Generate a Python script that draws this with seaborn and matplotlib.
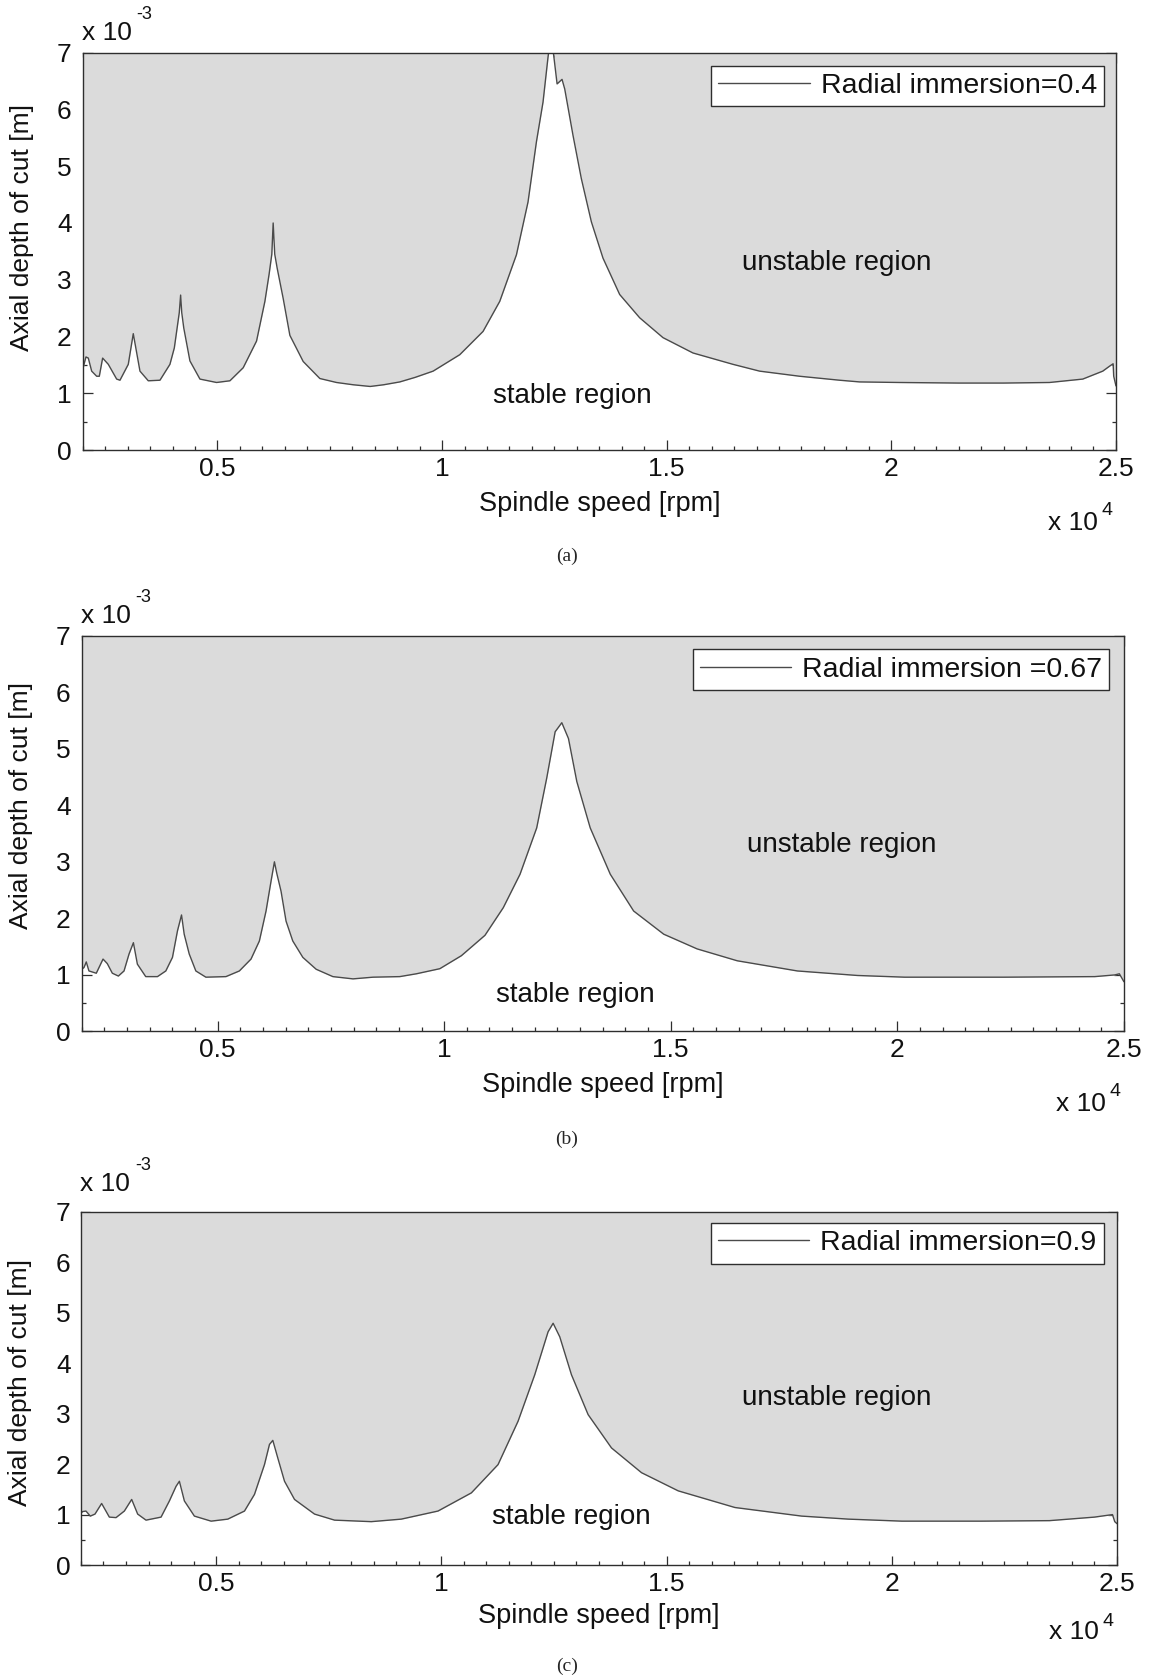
import matplotlib
matplotlib.use('Agg')
import matplotlib.pyplot as plt
from matplotlib.ticker import MultipleLocator, FuncFormatter
import seaborn as sns

# Stability lobe boundaries, spindle speed [rpm] vs axial depth of cut [x 1e-3 m]
rpm_a = [2000, 2073, 2125, 2200, 2311, 2370, 2444, 2570, 2756, 2830, 3015, 3126, 3275, 3460, 3720,
         3942, 4040, 4150, 4180, 4205, 4250, 4387, 4610, 4980, 5277, 5573, 5870, 6056, 6150, 6210,
         6240, 6275, 6330, 6463, 6612, 6908, 7279, 7650, 8020, 8400, 8700, 9059, 9400, 9800, 10394,
         10912, 11284, 11655, 11913, 12100, 12247, 12358, 12420, 12485, 12560, 12670, 12730, 12915,
         13100, 13323, 13582, 13953, 14398, 14917, 15584, 16474, 17068, 17958, 18848, 19293, 20183,
         21500, 22500, 23520, 24261, 24706, 24862, 24937, 24950, 25000]
depth_a = [1.42, 1.64, 1.62, 1.39, 1.30, 1.30, 1.62, 1.51, 1.25, 1.23, 1.51, 2.05, 1.39, 1.22, 1.23,
           1.51, 1.80, 2.42, 2.73, 2.42, 2.15, 1.57, 1.25, 1.19, 1.22, 1.45, 1.92, 2.62, 3.10, 3.45,
           4.00, 3.45, 3.20, 2.67, 2.02, 1.56, 1.26, 1.19, 1.15, 1.12, 1.15, 1.20, 1.28, 1.39, 1.68,
           2.09, 2.62, 3.44, 4.37, 5.43, 6.13, 6.92, 7.30, 6.95, 6.45, 6.53, 6.36, 5.54,
           4.78, 4.02, 3.38, 2.74, 2.33, 1.98, 1.71, 1.51, 1.39, 1.30, 1.23, 1.20, 1.19,
           1.18, 1.18, 1.19, 1.25, 1.39, 1.48, 1.52, 1.30, 1.13]

rpm_b = [2000, 2051, 2102, 2161, 2323, 2472, 2566, 2677, 2810, 2935, 3046, 3142, 3230, 3414, 3673,
         3857, 4004, 4115, 4204, 4263, 4374, 4520, 4741, 5184, 5480, 5737, 5922, 6069, 6180, 6254,
         6305, 6400, 6511, 6659, 6881, 7175, 7544, 7987, 8429, 9020, 9387, 9904, 10380, 10900, 11305,
         11674, 12042, 12263, 12449, 12596, 12743, 12927, 13223, 13666, 14181, 14845, 15582, 16467,
         17794, 19122, 20161, 22367, 24358, 24800, 24900, 24950, 25000]
depth_b = [1.10, 1.13, 1.23, 1.07, 1.03, 1.28, 1.20, 1.03, 0.98, 1.07, 1.37, 1.57, 1.19, 0.97, 0.97,
           1.07, 1.31, 1.78, 2.06, 1.72, 1.37, 1.07, 0.96, 0.97, 1.07, 1.28, 1.60, 2.13, 2.66, 3.00,
           2.80, 2.48, 1.95, 1.60, 1.31, 1.10, 0.97, 0.93, 0.96, 0.97, 1.02, 1.11, 1.34, 1.70, 2.19,
           2.78, 3.60, 4.48, 5.30, 5.46, 5.18, 4.42, 3.60, 2.78, 2.13, 1.72, 1.46, 1.25,
           1.07, 0.99, 0.96, 0.96, 0.97, 1.00, 1.02, 0.95, 0.88]

rpm_c = [2000, 2037, 2111, 2207, 2311, 2459, 2630, 2778, 2963, 3126, 3259, 3444, 3778, 3963, 4111,
         4185, 4296, 4518, 4889, 5259, 5630, 5852, 6074, 6185, 6259, 6370, 6519, 6741, 7185, 7630,
         8444, 9111, 9926, 10667, 11259, 11704, 12074, 12370, 12482, 12630, 12889, 13259, 13778,
         14444, 15259, 16519, 18000, 19037, 20222, 22000, 23500, 24500, 24900, 24950, 25000]
depth_c = [1.03, 1.06, 1.07, 0.97, 1.01, 1.22, 0.95, 0.94, 1.07, 1.30, 1.01, 0.89, 0.95, 1.27, 1.56,
           1.66, 1.27, 0.97, 0.87, 0.91, 1.07, 1.40, 1.99, 2.39, 2.47, 2.12, 1.66, 1.30, 1.01, 0.89,
           0.86, 0.91, 1.07, 1.43, 1.99, 2.85, 3.77, 4.62, 4.79, 4.52, 3.77, 2.98, 2.32,
           1.83, 1.47, 1.14, 0.97, 0.91, 0.87, 0.87, 0.88, 0.95, 1.00, 0.86, 0.82]

legend_labels = ['Radial immersion=0.4', 'Radial immersion =0.67', 'Radial immersion=0.9']
captions = ['(a)', '(b)', '(c)']
stable_depth = [0.95, 0.65, 0.96]

sns.set_theme(style='ticks')
plt.rcParams['font.family'] = ['Liberation Sans', 'DejaVu Sans']

FILL = '#dbdbdb'
LINE = '#4a4a4a'
EDGE = '#2e2e2e'
TXT = '#111111'

fig = plt.figure(figsize=(11.5, 16.78), dpi=100)

# axes rect, offset scale, legend anchor, caption y, ylabel y, top exponent lift
layout = [
    ([0.0719, 0.7318, 0.8985, 0.2368], 1.0, (0.9887, 0.967), 0.6687, 0.561, 0),
    ([0.0710, 0.3853, 0.9063, 0.2359], 1.0, (0.986, 0.965), 0.3212, 0.572, 0),
    ([0.0704, 0.0673, 0.9009, 0.2106], 0.93, (0.987, 0.967), 0.0072, 0.518, 8),
]
series = [(rpm_a, depth_a), (rpm_b, depth_b), (rpm_c, depth_c)]

for (rpm, depth), label, cap, sy, (rect, s, lpos, cap_y, ylab_y, lift) in zip(
        series, legend_labels, captions, stable_depth, layout):
    ax = fig.add_axes(rect)
    h_px = rect[3] * fig.get_figheight() * fig.dpi

    # unstable region above the lobes
    ax.fill_between(rpm, depth, 8, color=FILL, lw=0, zorder=1)
    sns.lineplot(x=rpm, y=depth, ax=ax, color=LINE, lw=1.0, label=label,
                 estimator=None, sort=False, zorder=2)

    ax.set_xlim(2000, 25000)
    ax.set_ylim(0, 7)
    ax.xaxis.set_major_locator(MultipleLocator(5000))
    ax.xaxis.set_minor_locator(MultipleLocator(500))
    ax.yaxis.set_major_locator(MultipleLocator(1))
    ax.yaxis.set_minor_locator(MultipleLocator(0.5))
    ax.xaxis.set_major_formatter(FuncFormatter(lambda v, p: f'{v / 1e4:g}'))
    ax.tick_params(which='both', direction='in', top=True, right=True, color=EDGE,
                   width=0.9, labelsize=19, labelcolor=TXT)
    ax.tick_params(which='major', length=7.2 * s)
    ax.tick_params(which='minor', length=3.1 * s)
    ax.tick_params(axis='x', which='major', pad=5 * s)
    ax.tick_params(axis='y', which='major', pad=8 * s)
    for sp in ax.spines.values():
        sp.set_color(EDGE)
        sp.set_linewidth(1.0)

    ax.set_xlabel('Spindle speed [rpm]', fontsize=19.5, color=TXT)
    ax.xaxis.set_label_coords(0.5, -41 * s / h_px)
    ax.set_ylabel('Axial depth of cut [m]', fontsize=19, color=TXT)
    ax.yaxis.set_label_coords(-0.047, ylab_y)

    # region annotations
    ax.text(18780, 3.30, 'unstable region', fontsize=20, ha='center', va='center', color=TXT)
    ax.text(12890, sy, 'stable region', fontsize=20, ha='center', va='center', color=TXT)

    # MATLAB-style exponent labels
    ax.annotate('x 10', xy=(0, 1), xycoords='axes fraction', xytext=(-1, 12.4 + lift),
                textcoords='offset pixels', ha='left', va='baseline', fontsize=19, color=TXT)
    ax.annotate('-3', xy=(0, 1), xycoords='axes fraction', xytext=(54, 34 + lift),
                textcoords='offset pixels', ha='left', va='baseline', fontsize=13, color=TXT)
    ax.annotate('x 10', xy=(1, 0), xycoords='axes fraction', xytext=(-17.7, -80 * s),
                textcoords='offset pixels', ha='right', va='baseline', fontsize=19, color=TXT)
    ax.annotate('4', xy=(1, 0), xycoords='axes fraction', xytext=(-14.3, -65 * s),
                textcoords='offset pixels', ha='left', va='baseline', fontsize=14, color=TXT)

    leg = ax.legend(loc='upper right', bbox_to_anchor=lpos, borderaxespad=0, fontsize=20.5,
                    frameon=True, fancybox=False, edgecolor=EDGE, framealpha=1,
                    handlelength=3.2, handletextpad=0.4, borderpad=0.25)
    leg.get_frame().set_linewidth(1.0)
    for t in leg.get_texts():
        t.set_color(TXT)

    fig.text(0.493, cap_y, cap, family='Liberation Serif', fontsize=14, ha='center', va='center')

fig.savefig('out.png', dpi=100, facecolor='white')
